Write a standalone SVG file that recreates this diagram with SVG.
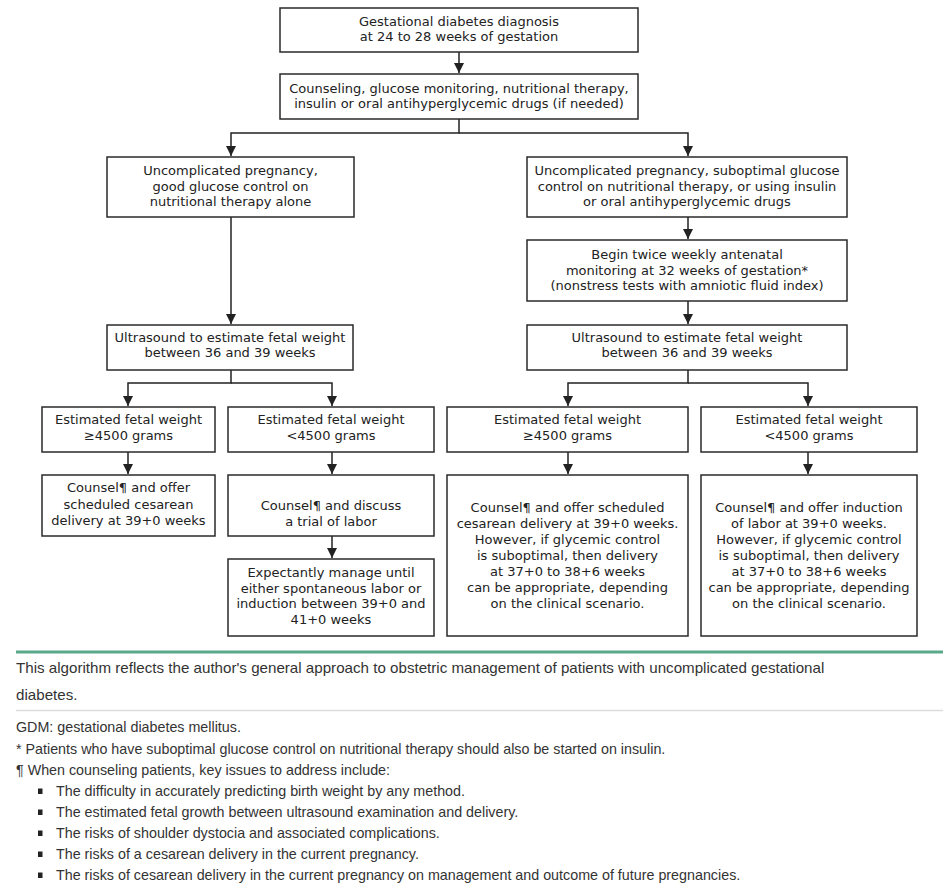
<svg xmlns="http://www.w3.org/2000/svg" width="950" height="893" viewBox="0 0 950 893">
<style>
.box{fill:#fff;stroke:#2a2a2a;stroke-width:1.5}
.t{font-family:"DejaVu Sans",Verdana,sans-serif;font-size:13px;fill:#222;text-anchor:middle}
.c{stroke:#222;stroke-width:1.5;fill:none}
.f{font-family:"Liberation Sans",Arial,sans-serif;font-size:14.3px;fill:#333}
.f15{font-size:15.15px}
</style>
<defs>
<marker id="ah" viewBox="0 0 10 10" refX="10" refY="5" markerWidth="10" markerHeight="10" markerUnits="userSpaceOnUse" orient="auto">
<path d="M0,0 L10,5 L0,10 z" fill="#222"/>
</marker>
</defs>
<rect width="950" height="893" fill="#fff"/>
<g id="connectors" class="c" marker-end="url(#ah)">
<path d="M459,52 V73"/>
<path d="M459,119 V133 H231 V156"/>
<path d="M459,133 H688 V156"/>
<path d="M688,217 V239"/>
<path d="M231,217 V324"/>
<path d="M688,301 V324"/>
<path d="M231,370 V383 H128 V406"/>
<path d="M231,383 H332 V406"/>
<path d="M688,370 V383 H568 V406"/>
<path d="M688,383 H808 V406"/>
<path d="M128,452 V474"/>
<path d="M332,452 V474"/>
<path d="M332,536 V558"/>
<path d="M568,452 V474"/>
<path d="M808,452 V474"/>
</g>
<g id="n1"><rect class="box" x="280" y="8" width="358" height="44"/>
<text class="t" x="459" y="26">Gestational diabetes diagnosis</text>
<text class="t" x="459" y="41">at 24 to 28 weeks of gestation</text></g>
<g id="n2"><rect class="box" x="280" y="74" width="358" height="45"/>
<text class="t" x="459" y="93">Counseling, glucose monitoring, nutritional therapy,</text>
<text class="t" x="459" y="108">insulin or oral antihyperglycemic drugs (if needed)</text></g>
<g id="n3"><rect class="box" x="107" y="157" width="247" height="60"/>
<text class="t" x="230.5" y="175">Uncomplicated pregnancy,</text>
<text class="t" x="230.5" y="190.5">good glucose control on</text>
<text class="t" x="230.5" y="206">nutritional therapy alone</text></g>
<g id="n4"><rect class="box" x="527" y="157" width="320" height="60"/>
<text class="t" x="687" y="175">Uncomplicated pregnancy, suboptimal glucose</text>
<text class="t" x="687" y="190.5">control on nutritional therapy, or using insulin</text>
<text class="t" x="687" y="206">or oral antihyperglycemic drugs</text></g>
<g id="n5"><rect class="box" x="527" y="240" width="320" height="61"/>
<text class="t" x="687" y="259">Begin twice weekly antenatal</text>
<text class="t" x="687" y="274.5">monitoring at 32 weeks of gestation*</text>
<text class="t" x="687" y="290">(nonstress tests with amniotic fluid index)</text></g>
<g id="n6"><rect class="box" x="107" y="325" width="246" height="45"/>
<text class="t" x="230" y="342">Ultrasound to estimate fetal weight</text>
<text class="t" x="230" y="357">between 36 and 39 weeks</text></g>
<g id="n7"><rect class="box" x="527" y="325" width="320" height="45"/>
<text class="t" x="687" y="342">Ultrasound to estimate fetal weight</text>
<text class="t" x="687" y="357">between 36 and 39 weeks</text></g>
<g id="n8"><rect class="box" x="42" y="407" width="173" height="45"/>
<text class="t" x="128.5" y="424">Estimated fetal weight</text>
<text class="t" x="128.5" y="440">≥4500 grams</text></g>
<g id="n9"><rect class="box" x="228" y="407" width="206" height="45"/>
<text class="t" x="331" y="424">Estimated fetal weight</text>
<text class="t" x="331" y="440">&lt;4500 grams</text></g>
<g id="n10"><rect class="box" x="447" y="407" width="241" height="45"/>
<text class="t" x="567.5" y="424">Estimated fetal weight</text>
<text class="t" x="567.5" y="440">≥4500 grams</text></g>
<g id="n11"><rect class="box" x="701" y="407" width="216" height="45"/>
<text class="t" x="809" y="424">Estimated fetal weight</text>
<text class="t" x="809" y="440">&lt;4500 grams</text></g>
<g id="n12"><rect class="box" x="42" y="475" width="173" height="61"/>
<text class="t" x="128.5" y="492">Counsel¶ and offer</text>
<text class="t" x="128.5" y="508.5">scheduled cesarean</text>
<text class="t" x="128.5" y="525">delivery at 39+0 weeks</text></g>
<g id="n13"><rect class="box" x="228" y="475" width="206" height="61"/>
<text class="t" x="331" y="510">Counsel¶ and discuss</text>
<text class="t" x="331" y="525.5">a trial of labor</text></g>
<g id="n14"><rect class="box" x="228" y="559" width="206" height="77"/>
<text class="t" x="331" y="577">Expectantly manage until</text>
<text class="t" x="331" y="592.5">either spontaneous labor or</text>
<text class="t" x="331" y="608">induction between 39+0 and</text>
<text class="t" x="331" y="624">41+0 weeks</text></g>
<g id="n15"><rect class="box" x="447" y="475" width="241" height="161"/>
<text class="t" x="567.5" y="512">Counsel¶ and offer scheduled</text>
<text class="t" x="567.5" y="528">cesarean delivery at 39+0 weeks.</text>
<text class="t" x="567.5" y="544">However, if glycemic control</text>
<text class="t" x="567.5" y="560">is suboptimal, then delivery</text>
<text class="t" x="567.5" y="576">at 37+0 to 38+6 weeks</text>
<text class="t" x="567.5" y="592">can be appropriate, depending</text>
<text class="t" x="567.5" y="607.5">on the clinical scenario.</text></g>
<g id="n16"><rect class="box" x="701" y="475" width="216" height="161"/>
<text class="t" x="809" y="512">Counsel¶ and offer induction</text>
<text class="t" x="809" y="528">of labor at 39+0 weeks.</text>
<text class="t" x="809" y="544">However, if glycemic control</text>
<text class="t" x="809" y="560">is suboptimal, then delivery</text>
<text class="t" x="809" y="576">at 37+0 to 38+6 weeks</text>
<text class="t" x="809" y="592">can be appropriate, depending</text>
<text class="t" x="809" y="607.5">on the clinical scenario.</text></g>
<g id="footer">
<line x1="16" y1="652" x2="943" y2="652" stroke="#5aa98b" stroke-width="3"/>
<text class="f f15" x="16" y="673">This algorithm reflects the author's general approach to obstetric management of patients with uncomplicated gestational</text>
<text class="f f15" x="16" y="700">diabetes.</text>
<line x1="16" y1="710.5" x2="943" y2="710.5" stroke="#dcdcdc" stroke-width="1.5"/>
<text class="f" x="16" y="732">GDM: gestational diabetes mellitus.</text>
<text class="f" x="16" y="754">* Patients who have suboptimal glucose control on nutritional therapy should also be started on insulin.</text>
<text class="f" x="16" y="775">¶ When counseling patients, key issues to address include:</text>
<g fill="#222">
<rect x="38" y="788.5" width="4.5" height="5.5"/>
<rect x="38" y="809.5" width="4.5" height="5.5"/>
<rect x="38" y="830.5" width="4.5" height="5.5"/>
<rect x="38" y="851.5" width="4.5" height="5.5"/>
<rect x="38" y="872.5" width="4.5" height="5.5"/>
</g>
<text class="f" x="56" y="796">The difficulty in accurately predicting birth weight by any method.</text>
<text class="f" x="56" y="817">The estimated fetal growth between ultrasound examination and delivery.</text>
<text class="f" x="56" y="838">The risks of shoulder dystocia and associated complications.</text>
<text class="f" x="56" y="859">The risks of a cesarean delivery in the current pregnancy.</text>
<text class="f" x="56" y="880">The risks of cesarean delivery in the current pregnancy on management and outcome of future pregnancies.</text>
</g>
</svg>
